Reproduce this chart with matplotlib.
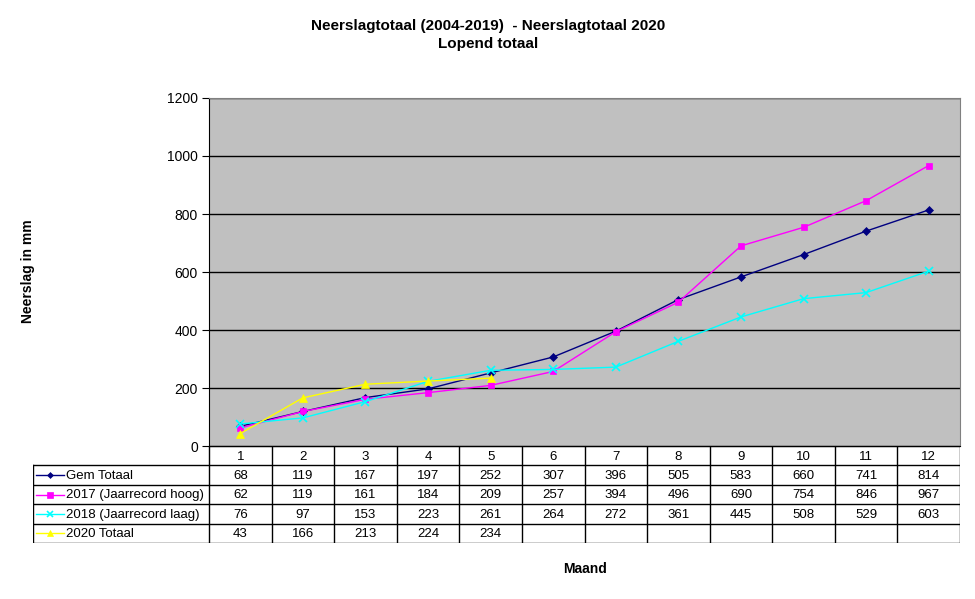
import matplotlib.pyplot as plt
import numpy as np

plt.rcParams['font.family'] = ['Liberation Sans', 'DejaVu Sans']

# Data
maanden = [1, 2, 3, 4, 5, 6, 7, 8, 9, 10, 11, 12]
gem_totaal = [68, 119, 167, 197, 252, 307, 396, 505, 583, 660, 741, 814]
jaar_2017 = [62, 119, 161, 184, 209, 257, 394, 496, 690, 754, 846, 967]
jaar_2018 = [76, 97, 153, 223, 261, 264, 272, 361, 445, 508, 529, 603]
jaar_2020 = [43, 166, 213, 224, 234]

reeksen = [
    ('Gem Totaal', gem_totaal, '#000080', 'D', 4),
    ('2017 (Jaarrecord hoog)', jaar_2017, '#FF00FF', 's', 5),
    ('2018 (Jaarrecord laag)', jaar_2018, '#00FFFF', 'x', 6),
    ('2020 Totaal', jaar_2020, '#FFFF00', '^', 6),
]

W, H = 975, 599
fig = plt.figure(figsize=(W / 100, H / 100), dpi=100)

# plot area
ax = fig.add_axes([209 / W, (H - 446) / H, 751 / W, 348 / H])
ax.set_facecolor('#C0C0C0')
for naam, vals, kleur, mk, ms in reeksen:
    ax.plot(maanden[:len(vals)], vals, color=kleur, marker=mk, markersize=ms,
            linewidth=1, markeredgewidth=1.2 if mk == 'x' else 0.5)
ax.set_xlim(0.5, 12.5)
ax.set_ylim(0, 1200)
ax.set_yticks(np.arange(0, 1201, 200))
ax.yaxis.grid(True, color='black', linewidth=1)
ax.set_axisbelow(True)
ax.set_xticks([])
ax.tick_params(axis='y', direction='out', length=5, labelsize=10, pad=3)
for s in ['top', 'right']:
    ax.spines[s].set_color('#808080')
ax.spines['left'].set_color('black')
ax.spines['bottom'].set_color('black')

# data table
label_w = 176 / (751 / 12)
tab = fig.add_axes([33 / W, (H - 543) / H, 927 / W, 97 / H])
tab.set_xlim(0.5 - label_w, 12.5)
tab.set_ylim(5, 0)
tab.axis('off')
x0 = 0.5 - label_w
# horizontal lines
tab.plot([0.5, 12.5], [0, 0], color='black', lw=1)
for r in range(1, 6):
    tab.plot([x0, 12.5], [r, r], color='black', lw=1)
# vertical lines
for c in range(13):
    tab.plot([c + 0.5, c + 0.5], [0, 5], color='black', lw=1)
tab.plot([x0, x0], [1, 5], color='black', lw=1)

for m in maanden:
    tab.text(m, 0.55, str(m), ha='center', va='center', fontsize=9.5)
for r, (naam, vals, kleur, mk, ms) in enumerate(reeksen, start=1):
    yc = r + 0.5
    tab.plot([x0 + 0.05, x0 + 0.5], [yc, yc], color=kleur, lw=1)
    tab.plot([x0 + 0.275], [yc], color=kleur, marker=mk, markersize=ms - 1,
             markeredgewidth=1.2 if mk == 'x' else 0.5)
    tab.text(x0 + 0.53, yc + 0.05, naam, ha='left', va='center', fontsize=9.5)
    for m, v in zip(maanden, vals):
        tab.text(m, yc + 0.05, str(v), ha='center', va='center', fontsize=9.5)

# labels
fig.text(488 / W, 1 - 26 / H, 'Neerslagtotaal (2004-2019)  - Neerslagtotaal 2020',
         ha='center', va='center', fontsize=11, fontweight='bold')
fig.text(488 / W, 1 - 44 / H, 'Lopend totaal', ha='center', va='center',
         fontsize=11, fontweight='bold')
fig.text(28 / W, 1 - 271 / H, 'Neerslag in mm', rotation=90, ha='center',
         va='center', fontsize=10, fontweight='bold')
fig.text(585 / W, 1 - 569 / H, 'Maand', ha='center', va='center', fontsize=10,
         fontweight='bold')

fig.savefig('out.png', dpi=100)
